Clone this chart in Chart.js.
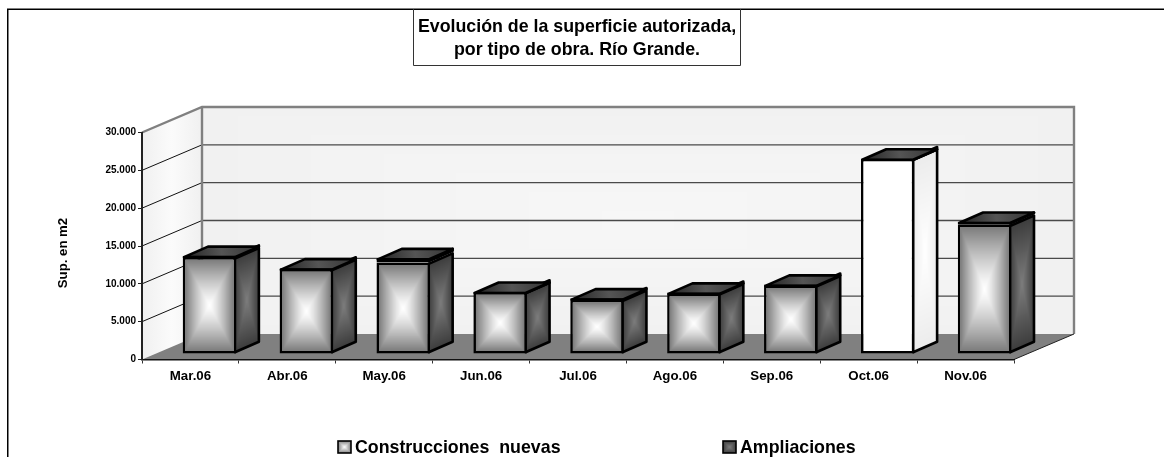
<!DOCTYPE html>
<html><head><meta charset="utf-8">
<style>html,body{margin:0;padding:0;background:#fff}#w{width:1164px;height:457px;position:relative}canvas{display:block}</style>
<script src="https://cdn.jsdelivr.net/npm/chart.js@4"></script>
</head><body><div id="w"><canvas id="c" width="1164" height="457"></canvas></div>
<script>
const categories=['Mar.06','Abr.06','May.06','Jun.06','Jul.06','Ago.06','Sep.06','Oct.06','Nov.06'];
const construcciones=[12800,11220,12090,8180,7160,8020,9080,25790,17080];
const ampliaciones=[170,100,590,50,200,100,100,60,400];
const seriesNames=['Construcciones  nuevas','Ampliaciones'];
const titleLines=['Evolución de la superficie autorizada,','por tipo de obra. Río Grande.'];
const yTitle='Sup. en m2';
const yMax=30000, yStep=5000;

const FONT='"Liberation Sans", Arial, sans-serif';
const WALL={dx:60,dy:25.5}, BAR={sx:19,sy:5.5,dx:24,dy:10.5,lw:2.6};

function boxGrad(w,h,edge,center,pow){
  w=Math.max(1,Math.round(w));h=Math.max(1,Math.round(h));pow=pow||1;
  const c=document.createElement('canvas');c.width=w;c.height=h;
  const g=c.getContext('2d'),im=g.createImageData(w,h);
  for(let y=0;y<h;y++)for(let x=0;x<w;x++){
    const t=Math.max(Math.abs((x+.5)/w*2-1),Math.abs((y+.5)/h*2-1));
    const v=center+(edge-center)*Math.pow(t,pow),i=(y*w+x)*4;
    im.data[i]=im.data[i+1]=im.data[i+2]=v;im.data[i+3]=255;
  }
  g.putImageData(im,0,0);return c;
}
function poly(ctx,p){ctx.beginPath();p.forEach((q,i)=>i?ctx.lineTo(q[0],q[1]):ctx.moveTo(q[0],q[1]));ctx.closePath();}

const scene={
  id:'scene',
  beforeDraw(chart){
    const ctx=chart.ctx,a=chart.chartArea,y=chart.scales.y;
    const {dx,dy}=WALL,L=a.left,R=a.right,T=y.getPixelForValue(yMax),B=y.getPixelForValue(0);
    ctx.save();
    ctx.fillStyle='#fff';ctx.fillRect(0,0,1164,457);
    ctx.fillStyle='#808080';ctx.fillRect(7,8,1157,1);
    ctx.fillStyle='#000';ctx.fillRect(7,9,1157,1);ctx.fillRect(7,9,1.5,448);
    ctx.drawImage(boxGrad(R-L,B-T,241,247),L+dx,T-dy,R-L,B-T);
    poly(ctx,[[L,T],[L+dx,T-dy],[L+dx,B-dy],[L,B]]);
    const lg=ctx.createLinearGradient(L,0,L+dx,0);
    lg.addColorStop(0,'#f0f0f0');lg.addColorStop(.5,'#fbfbfb');lg.addColorStop(1,'#f0f0f0');
    ctx.fillStyle=lg;ctx.fill();
    poly(ctx,[[L,B],[R,B],[R+dx,B-dy],[L+dx,B-dy]]);
    ctx.fillStyle='#808080';ctx.fill();
    for(let v=yStep;v<yMax;v+=yStep){
      const p=y.getPixelForValue(v);
      ctx.strokeStyle='#111';ctx.lineWidth=1;
      ctx.beginPath();ctx.moveTo(L,p);ctx.lineTo(L+dx,p-dy);ctx.stroke();
      ctx.strokeStyle='#4a4a4a';ctx.lineWidth=1.4;
      ctx.beginPath();ctx.moveTo(L+dx,p-dy);ctx.lineTo(R+dx,p-dy);ctx.stroke();
    }
    ctx.strokeStyle='#808080';ctx.lineWidth=2.4;ctx.lineJoin='miter';
    ctx.beginPath();ctx.moveTo(L,T);ctx.lineTo(L+dx,T-dy);ctx.lineTo(R+dx,T-dy);ctx.lineTo(R+dx,B-dy);ctx.stroke();
    ctx.beginPath();ctx.moveTo(L+dx,T-dy);ctx.lineTo(L+dx,B-dy);ctx.stroke();
    ctx.strokeStyle='#222';ctx.lineWidth=1;
    ctx.beginPath();ctx.moveTo(R,B);ctx.lineTo(R+dx,B-dy);ctx.stroke();
    ctx.restore();
  },
  beforeDatasetsDraw(chart){
    const ctx=chart.ctx;
    ctx.save();ctx.translate(BAR.sx,-BAR.sy);
    ctx.save();ctx.strokeStyle='#000';ctx.lineWidth=BAR.lw;ctx.lineJoin='round';
    [0,1].forEach(di=>{
      chart.getDatasetMeta(di).data.forEach(el=>{
        const {x,y,base,width}=el.getProps(['x','y','base','width']);
        const l=x-width/2+1.3,r=x+width/2-1.3,t=y+1.3,b=base-1.3;
        const h=Math.max(1,b-t),white=di===0&&el.options.backgroundColor==='#ffffff';
        const img=di===0?(white?boxGrad(BAR.dx,h,236,255):boxGrad(BAR.dx,h,60,125)):boxGrad(BAR.dx,h,50,60);
        ctx.save();
        ctx.transform(1,-BAR.dy/BAR.dx,0,1,r,t);
        ctx.drawImage(img,0,0,BAR.dx,h);
        ctx.restore();
        poly(ctx,[[r,t],[r+BAR.dx,t-BAR.dy],[r+BAR.dx,b-BAR.dy],[r,b]]);ctx.stroke();
        if(di===1){
          poly(ctx,[[l,t],[l+BAR.dx,t-BAR.dy],[r+BAR.dx,t-BAR.dy],[r,t]]);
          const g=ctx.createLinearGradient(l,t,r+BAR.dx,t-BAR.dy);
          g.addColorStop(0,'#222');g.addColorStop(.5,'#555');g.addColorStop(1,'#333');
          ctx.fillStyle=g;ctx.fill();ctx.stroke();
        }
      });
    });
    ctx.restore();
  },
  afterDatasetDraw(chart,args){
    if(args.index!==0)return;
    const ctx=chart.ctx;
    args.meta.data.forEach(el=>{
      if(el.options.backgroundColor==='#ffffff')return;
      const {x,y,base,width}=el.getProps(['x','y','base','width']);
      const bw=BAR.lw,w=width-2*bw,h=base-y-2*bw;
      if(w>0&&h>0)ctx.drawImage(boxGrad(w,h,125,255,1.25),x-width/2+bw,y+bw,w,h);
    });
  },
  afterDatasetsDraw(chart){chart.ctx.restore();},
  afterDraw(chart){
    const ctx=chart.ctx;
    ctx.save();
    ctx.fillStyle='#fff';ctx.fillRect(413,10,327,55.5);
    ctx.strokeStyle='#333';ctx.lineWidth=1;
    ctx.beginPath();ctx.moveTo(413.5,9);ctx.lineTo(413.5,65.5);ctx.lineTo(740.5,65.5);ctx.lineTo(740.5,9);ctx.stroke();
    ctx.fillStyle='#000';ctx.textAlign='center';ctx.textBaseline='middle';
    ctx.font='bold 17.8px '+FONT;
    ctx.fillText(titleLines[0],577,27);
    ctx.fillText(titleLines[1],577,50);
    // y axis title
    ctx.save();ctx.translate(63,253);ctx.rotate(-Math.PI/2);
    ctx.font='bold 13.2px '+FONT;ctx.fillText(yTitle,0,0);ctx.restore();
    // legend
    ctx.textAlign='left';ctx.font='bold 17.8px '+FONT;
    [[338,seriesNames[0],128,255],[723,seriesNames[1],60,125]].forEach(([x,t,e,c])=>{
      ctx.drawImage(boxGrad(13,12,e,c),x,441,13,12);
      ctx.strokeStyle='#000';ctx.lineWidth=1.6;ctx.strokeRect(x,441,13,12);
      ctx.fillStyle='#000';ctx.fillText(t,x+17,448.5);
    });
    ctx.restore();
  }
};

new Chart(document.getElementById('c'),{
  type:'bar',
  data:{labels:categories,datasets:[
    {label:seriesNames[0],data:construcciones,
     backgroundColor:categories.map(c=>c==='Oct.06'?'#ffffff':'#b0b0b0'),
     borderColor:'#000',borderWidth:BAR.lw,borderSkipped:false,clip:false},
    {label:seriesNames[1],data:ampliaciones,backgroundColor:'#404040',
     borderColor:'#000',borderWidth:BAR.lw,borderSkipped:false,clip:false}
  ]},
  options:{
    responsive:false,animation:false,
    layout:{padding:{left:50,right:150,top:132.5,bottom:0}},
    plugins:{legend:{display:false},title:{display:false},tooltip:{enabled:false}},
    datasets:{bar:{categoryPercentage:1,barPercentage:.552}},
    scales:{
      x:{stacked:true,
        afterFit(s){s.height=97.5;},
        grid:{drawOnChartArea:false,drawTicks:true,tickLength:4,color:'#333'},
        border:{color:'#111',width:1.6},
        ticks:{color:'#000',font:{family:FONT,weight:'bold',size:13.3},padding:5,autoSkip:false,maxRotation:0}},
      y:{stacked:true,min:0,max:yMax,
        afterFit(s){s.width=92;},
        afterBuildTicks(s){s.ticks=[];for(let v=0;v<=yMax;v+=yStep)s.ticks.push({value:v});},
        grid:{drawOnChartArea:false,drawTicks:true,tickLength:4,color:'#222'},
        border:{color:'#222',width:2},
        ticks:{color:'#000',font:{family:FONT,weight:'bold',size:10},padding:2,
          callback:v=>String(v).replace(/\B(?=(\d{3})+$)/g,'.')},
        title:{display:false}}
    }
  },
  plugins:[scene]
});
</script></body></html>
